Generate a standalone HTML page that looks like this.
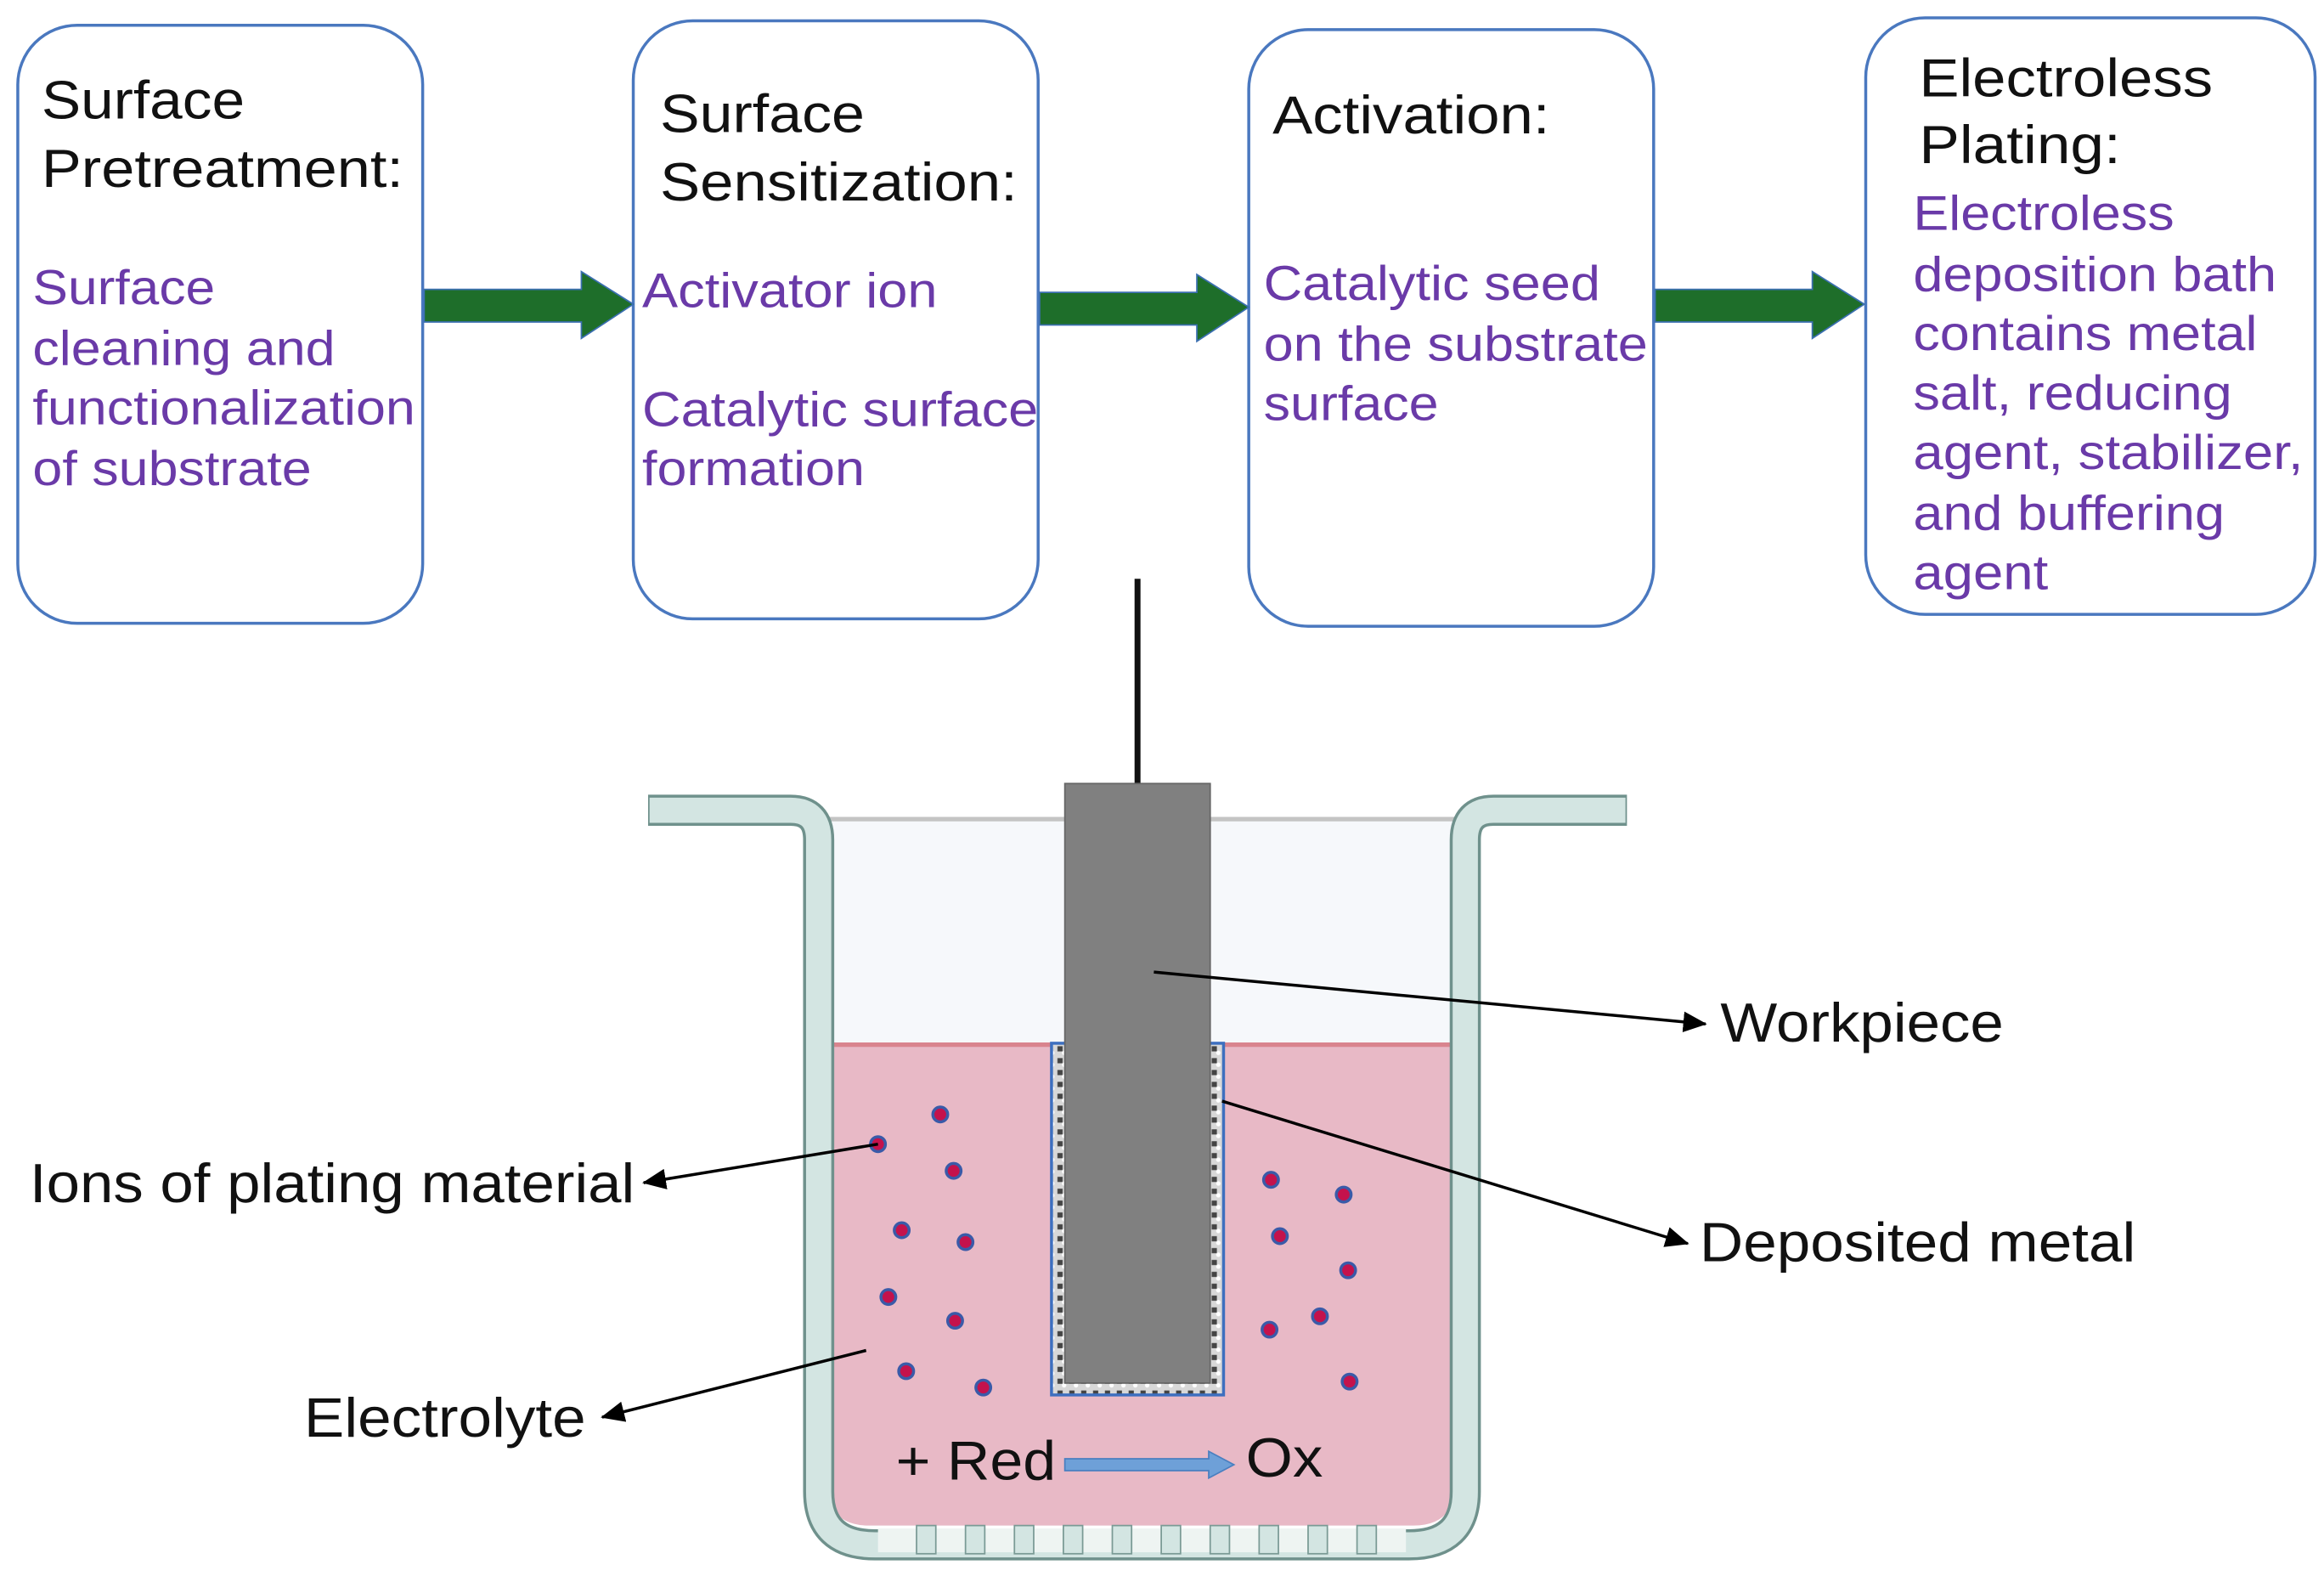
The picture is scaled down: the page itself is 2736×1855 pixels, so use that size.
<!DOCTYPE html>
<html><head><meta charset="utf-8"><style>
html,body{margin:0;padding:0;background:#fff;}
svg{display:block;}
text{font-family:"Liberation Sans",sans-serif;}
.t{font-size:36px;fill:#111;}
.p{font-size:33px;fill:#6a3aa8;}
.l{font-size:37px;fill:#111;}
</style></head><body>
<svg width="2736" height="1855" viewBox="0 0 1567 1062" preserveAspectRatio="none" xmlns="http://www.w3.org/2000/svg">
<defs>
<pattern id="dep" width="8" height="8" patternUnits="userSpaceOnUse">
<rect width="8" height="8" fill="#d8d8d8"/><rect x="1" y="1" width="3.5" height="3.5" fill="#444"/><circle cx="5.5" cy="5.5" r="1.5" fill="#fff"/>
</pattern>
<marker id="ah" markerWidth="16" markerHeight="14" refX="15" refY="7" orient="auto" markerUnits="userSpaceOnUse" viewBox="0 0 16 14">
<path d="M0,0 L16,7 L0,14 z" fill="#000"/></marker>
</defs>
<g fill="#fff" stroke="#4a78bf" stroke-width="2">
<rect x="12" y="17" width="273" height="403" rx="40"/>
<rect x="427" y="14" width="273" height="403" rx="40"/>
<rect x="842" y="20" width="273" height="402" rx="40"/>
<rect x="1258" y="12" width="303" height="402" rx="40"/>
</g>
<g fill="#1e6e2a" stroke="#3b6fb0" stroke-width="1">
<path d="M286,195 H392 V183 L427,205 L392,228 V217 H286 Z"/>
<path d="M701,197 H807 V185 L842,207 L807,230 V219 H701 Z"/>
<path d="M1116,195 H1222 V183 L1257,205 L1222,228 V217 H1116 Z"/>
</g>
<text class="t" x="28" y="80" textLength="137" lengthAdjust="spacingAndGlyphs">Surface</text>
<text class="t" x="28" y="126" textLength="244" lengthAdjust="spacingAndGlyphs">Pretreatment:</text>
<text class="p" x="22" y="205" textLength="123" lengthAdjust="spacingAndGlyphs">Surface</text>
<text class="p" x="22" y="246" textLength="204" lengthAdjust="spacingAndGlyphs">cleaning and</text>
<text class="p" x="22" y="286" textLength="258" lengthAdjust="spacingAndGlyphs">functionalization</text>
<text class="p" x="22" y="327" textLength="188" lengthAdjust="spacingAndGlyphs">of substrate</text>

<text class="t" x="445" y="89" textLength="138" lengthAdjust="spacingAndGlyphs">Surface</text>
<text class="t" x="445" y="135" textLength="241" lengthAdjust="spacingAndGlyphs">Sensitization:</text>
<text class="p" x="433" y="207" textLength="199" lengthAdjust="spacingAndGlyphs">Activator ion</text>
<text class="p" x="433" y="287" textLength="267" lengthAdjust="spacingAndGlyphs">Catalytic surface</text>
<text class="p" x="433" y="327" textLength="150" lengthAdjust="spacingAndGlyphs">formation</text>

<text class="t" x="858" y="90" textLength="187" lengthAdjust="spacingAndGlyphs">Activation:</text>
<text class="p" x="852" y="202" textLength="227" lengthAdjust="spacingAndGlyphs">Catalytic seed</text>
<text class="p" x="852" y="243" textLength="259" lengthAdjust="spacingAndGlyphs">on the substrate</text>
<text class="p" x="852" y="283" textLength="118" lengthAdjust="spacingAndGlyphs">surface</text>

<text class="t" x="1294" y="65" textLength="198" lengthAdjust="spacingAndGlyphs">Electroless</text>
<text class="t" x="1294" y="110" textLength="136" lengthAdjust="spacingAndGlyphs">Plating:</text>
<text class="p" x="1290" y="155" textLength="176" lengthAdjust="spacingAndGlyphs">Electroless</text>
<text class="p" x="1290" y="196" textLength="245" lengthAdjust="spacingAndGlyphs">deposition bath</text>
<text class="p" x="1290" y="236" textLength="232" lengthAdjust="spacingAndGlyphs">contains metal</text>
<text class="p" x="1290" y="276" textLength="215" lengthAdjust="spacingAndGlyphs">salt, reducing</text>
<text class="p" x="1290" y="316" textLength="263" lengthAdjust="spacingAndGlyphs">agent, stabilizer,</text>
<text class="p" x="1290" y="357" textLength="210" lengthAdjust="spacingAndGlyphs">and buffering</text>
<text class="p" x="1290" y="397" textLength="91" lengthAdjust="spacingAndGlyphs">agent</text>

<rect x="556" y="552" width="428" height="152" fill="#f6f8fb"/>
<line x1="556" y1="552" x2="984" y2="552" stroke="#c4c4c4" stroke-width="3"/>
<path d="M558,704 H981 V1000 Q981,1028 953,1028 H586 Q558,1028 558,1000 Z" fill="#e8b9c6"/>
<line x1="558" y1="704" x2="981" y2="704" stroke="#d9848e" stroke-width="3"/>
<path d="M437,546 H533 Q552,546 552,566 V1005 Q552,1041 590,1041 H950 Q988,1041 988,1005 V566 Q988,546 1007,546 H1097" fill="none" stroke="#6f918c" stroke-width="21"/>
<path d="M438,546 H533 Q552,546 552,566 V1005 Q552,1041 590,1041 H950 Q988,1041 988,1005 V566 Q988,546 1007,546 H1096" fill="none" stroke="#d3e5e2" stroke-width="17"/>
<!-- bottom feet -->
<rect x="592" y="1030" width="356" height="16" fill="#eef4f2"/>
<g fill="#d3e5e2" stroke="#7a9a95" stroke-width="1">
<rect x="618" y="1028" width="13" height="19"/><rect x="651" y="1028" width="13" height="19"/><rect x="684" y="1028" width="13" height="19"/><rect x="717" y="1028" width="13" height="19"/><rect x="750" y="1028" width="13" height="19"/><rect x="783" y="1028" width="13" height="19"/><rect x="816" y="1028" width="13" height="19"/><rect x="849" y="1028" width="13" height="19"/><rect x="882" y="1028" width="13" height="19"/><rect x="915" y="1028" width="13" height="19"/>
</g>
<line x1="767" y1="390" x2="767" y2="530" stroke="#111" stroke-width="4"/>
<rect x="709" y="703" width="116" height="237" fill="url(#dep)" stroke="#3d6fbf" stroke-width="2"/>
<rect x="718" y="528" width="98" height="404" fill="#808080" stroke="#666" stroke-width="1"/>
<g fill="#c4124c" stroke="#3a5aa8" stroke-width="2">
<circle cx="634" cy="751" r="5"/><circle cx="592" cy="771" r="5"/><circle cx="643" cy="789" r="5"/><circle cx="608" cy="829" r="5"/><circle cx="651" cy="837" r="5"/><circle cx="599" cy="874" r="5"/><circle cx="644" cy="890" r="5"/><circle cx="611" cy="924" r="5"/><circle cx="663" cy="935" r="5"/>
<circle cx="857" cy="795" r="5"/><circle cx="906" cy="805" r="5"/><circle cx="863" cy="833" r="5"/><circle cx="909" cy="856" r="5"/><circle cx="890" cy="887" r="5"/><circle cx="856" cy="896" r="5"/><circle cx="910" cy="931" r="5"/>
</g>
<g stroke="#000" stroke-width="2" marker-end="url(#ah)">
<line x1="778" y1="655" x2="1150" y2="690"/>
<line x1="824" y1="742" x2="1138" y2="838"/>
<line x1="592" y1="771" x2="434" y2="797"/>
<line x1="584" y1="910" x2="406" y2="955"/>
</g>
<text class="l" x="1160" y="702" textLength="191" lengthAdjust="spacingAndGlyphs">Workpiece</text>
<text class="l" x="1146" y="850" textLength="294" lengthAdjust="spacingAndGlyphs">Deposited metal</text>
<text class="l" x="20" y="810" textLength="408" lengthAdjust="spacingAndGlyphs">Ions of plating material</text>
<text class="l" x="205" y="968" textLength="190" lengthAdjust="spacingAndGlyphs">Electrolyte</text>
<text class="l" x="604" y="997" textLength="108" lengthAdjust="spacingAndGlyphs">+ Red</text>
<path d="M718,983 H815 V978 L832,987 L815,996 V991 H718 Z" fill="#6ea0d8" stroke="#4a7fc0" stroke-width="1"/>
<text class="l" x="840" y="995" textLength="52" lengthAdjust="spacingAndGlyphs">Ox</text>
</svg>
</body></html>
